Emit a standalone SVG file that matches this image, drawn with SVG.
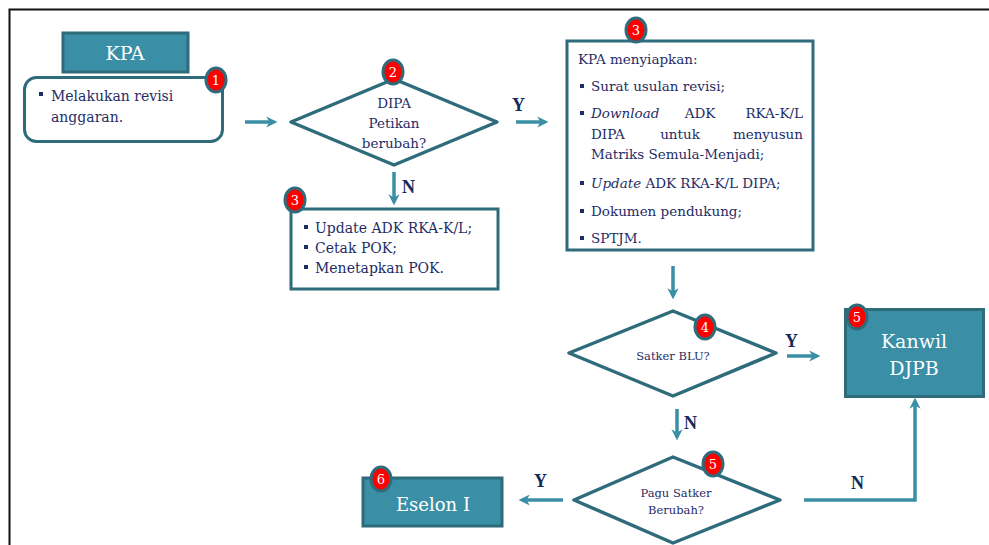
<svg xmlns="http://www.w3.org/2000/svg" width="989" height="545" viewBox="0 0 989 545">
  <style>
    .t { font-family: "DejaVu Serif", "Liberation Serif", serif; fill: #1f2d66; }
    .w { font-family: "DejaVu Serif", "Liberation Serif", serif; fill: #ffffff; }
    .box { fill: #ffffff; stroke: #2e6b7b; stroke-width: 3; }
    .solid { fill: #3a8fa6; stroke: #2e6b7b; stroke-width: 3; }
    .dia { fill: #ffffff; stroke: #2e6b7b; stroke-width: 3.5; stroke-linejoin: round; }
    .badge { fill: #ff0000; stroke: #2e6b7b; stroke-width: 3; }
    .num { font-family: "DejaVu Serif", "Liberation Serif", serif; font-size: 13px; fill: #ffffff; text-anchor: middle; }
    .arr { fill: none; stroke: #3a8fa6; stroke-width: 3.5; marker-end: url(#head); }
    .lbl { font-family: "Liberation Serif", "DejaVu Serif", serif; font-size: 18px; font-weight: bold; fill: #142a5c; }
    .bul { fill: #1f2d66; }
  </style>
  <defs>
    <marker id="head" viewBox="0 0 10 10" refX="7" refY="5" markerWidth="3.2" markerHeight="3.2" orient="auto" markerUnits="strokeWidth">
      <path d="M0,0 L10,5 L0,10 L3,5 Z" fill="#3a8fa6"/>
    </marker>
  </defs>

  <!-- page frame -->
  <path d="M9.5,545 V9.5 H989" fill="none" stroke="#111111" stroke-width="2"/>

  <!-- connectors -->
  <g id="connectors">
    <line class="arr" x1="245" y1="122" x2="274" y2="122"/>
    <line class="arr" x1="516" y1="122" x2="545" y2="122"/>
    <text class="lbl" x="512" y="111">Y</text>
    <line class="arr" x1="394" y1="172" x2="394" y2="202"/>
    <text class="lbl" x="402" y="193">N</text>
    <line class="arr" x1="673" y1="266" x2="673" y2="296"/>
    <line class="arr" x1="787" y1="356" x2="817" y2="356"/>
    <text class="lbl" x="785" y="347">Y</text>
    <line class="arr" x1="677" y1="409" x2="677" y2="437"/>
    <text class="lbl" x="684" y="429">N</text>
    <path class="arr" d="M804,500 H915 V401"/>
    <text class="lbl" x="851" y="489">N</text>
    <line class="arr" x1="563" y1="500" x2="522" y2="500"/>
    <text class="lbl" x="534" y="487">Y</text>
  </g>

  <!-- KPA header -->
  <g id="kpa">
    <rect class="solid" x="63" y="33" width="125" height="39"/>
    <text class="w" x="125" y="60" font-size="19" text-anchor="middle">KPA</text>
  </g>

  <!-- step 1 -->
  <g id="step1">
    <rect class="box" x="24.5" y="77.5" width="198" height="64" rx="12"/>
    <rect class="bul" x="39" y="92" width="4" height="4"/>
    <text class="t" x="51" y="101" font-size="14">Melakukan revisi</text>
    <text class="t" x="51" y="122" font-size="14">anggaran.</text>
    <ellipse class="badge" cx="216" cy="80" rx="10" ry="12"/>
    <text class="num" x="216" y="85">1</text>
  </g>

  <!-- decision: DIPA Petikan berubah? -->
  <g id="dipa">
    <polygon class="dia" points="291,122 394,79 497,122 394,165"/>
    <text class="t" x="394" y="108" font-size="13.5" text-anchor="middle">DIPA</text>
    <text class="t" x="394" y="128" font-size="13.5" text-anchor="middle">Petikan</text>
    <text class="t" x="394" y="148" font-size="13.5" text-anchor="middle">berubah?</text>
    <ellipse class="badge" cx="393" cy="72" rx="10" ry="12"/>
    <text class="num" x="393" y="77">2</text>
  </g>

  <!-- step 3 (no change) -->
  <g id="pok">
    <rect class="box" x="291" y="209" width="207" height="80"/>
    <rect class="bul" x="304" y="225" width="4" height="4"/>
    <text class="t" x="315" y="233" font-size="14">Update ADK RKA-K/L;</text>
    <rect class="bul" x="304" y="245" width="4" height="4"/>
    <text class="t" x="315" y="253" font-size="14">Cetak POK;</text>
    <rect class="bul" x="304" y="265" width="4" height="4"/>
    <text class="t" x="315" y="273" font-size="14">Menetapkan POK.</text>
    <ellipse class="badge" cx="295" cy="200" rx="10" ry="12"/>
    <text class="num" x="295" y="205">3</text>
  </g>

  <!-- step 3 (change) -->
  <g id="kpa-prep">
    <rect class="box" x="567" y="41" width="246" height="209"/>
    <text class="t" x="578" y="64" font-size="13.5">KPA menyiapkan:</text>
    <rect class="bul" x="580" y="84" width="4" height="4"/>
    <text class="t" x="591" y="91" font-size="13.5">Surat usulan revisi;</text>
    <rect class="bul" x="580" y="111" width="4" height="4"/>
    <text class="t" x="591" y="118" font-size="13.5"><tspan font-style="italic">Download</tspan></text>
    <text class="t" x="700" y="118" font-size="13.5" text-anchor="middle">ADK</text>
    <text class="t" x="803" y="118" font-size="13.5" text-anchor="end">RKA-K/L</text>
    <text class="t" x="591" y="139" font-size="13.5">DIPA</text>
    <text class="t" x="680" y="139" font-size="13.5" text-anchor="middle">untuk</text>
    <text class="t" x="803" y="139" font-size="13.5" text-anchor="end">menyusun</text>
    <text class="t" x="591" y="159" font-size="13.5">Matriks Semula-Menjadi;</text>
    <rect class="bul" x="580" y="181" width="4" height="4"/>
    <text class="t" x="591" y="188" font-size="13.5"><tspan font-style="italic">Update</tspan> ADK RKA-K/L DIPA;</text>
    <rect class="bul" x="580" y="209" width="4" height="4"/>
    <text class="t" x="591" y="216" font-size="13.5">Dokumen pendukung;</text>
    <rect class="bul" x="580" y="236" width="4" height="4"/>
    <text class="t" x="591" y="243" font-size="13.5">SPTJM.</text>
    <ellipse class="badge" cx="636" cy="30" rx="10" ry="12"/>
    <text class="num" x="636" y="35">3</text>
  </g>

  <!-- decision: Satker BLU? -->
  <g id="blu">
    <polygon class="dia" points="569,353 673,311 776,353 673,396"/>
    <text class="t" x="673" y="360" font-size="11.5" text-anchor="middle">Satker BLU?</text>
    <ellipse class="badge" cx="705" cy="327" rx="10" ry="12"/>
    <text class="num" x="705" y="332">4</text>
  </g>

  <!-- Kanwil DJPB -->
  <g id="kanwil">
    <rect class="solid" x="845.5" y="309.5" width="138" height="87"/>
    <text class="w" x="914" y="348" font-size="19" text-anchor="middle">Kanwil</text>
    <text class="w" x="914" y="375" font-size="19" text-anchor="middle">DJPB</text>
    <ellipse class="badge" cx="857" cy="317" rx="10" ry="12"/>
    <text class="num" x="857" y="322">5</text>
  </g>

  <!-- decision: Pagu Satker Berubah? -->
  <g id="pagu">
    <polygon class="dia" points="574,500 673,457 780,500 673,543"/>
    <text class="t" x="676" y="497" font-size="11.5" text-anchor="middle">Pagu Satker</text>
    <text class="t" x="676" y="514" font-size="11.5" text-anchor="middle">Berubah?</text>
    <ellipse class="badge" cx="713" cy="464" rx="10" ry="12"/>
    <text class="num" x="713" y="469">5</text>
  </g>

  <!-- Eselon I -->
  <g id="eselon">
    <rect class="solid" x="363" y="478" width="139" height="48"/>
    <text class="w" x="433" y="511" font-size="18" text-anchor="middle">Eselon I</text>
    <ellipse class="badge" cx="381" cy="479" rx="10" ry="12"/>
    <text class="num" x="381" y="484">6</text>
  </g>
</svg>
